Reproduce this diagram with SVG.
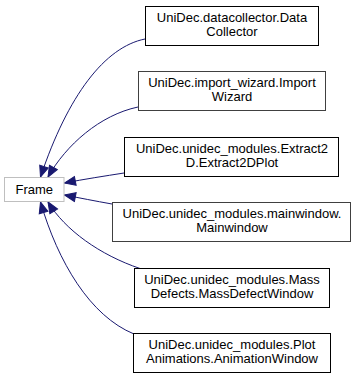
<svg xmlns="http://www.w3.org/2000/svg" width="357" height="379" viewBox="0 0 357 379">
  <style>
    .box { fill: #ffffff; stroke: #000000; stroke-width: 1; }
    .box.ext { stroke: #bfbfbf; }
    .box.grey { stroke: #404040; }
    .lbl { font-family: "Liberation Sans", Arial, Helvetica, sans-serif; font-size: 13px; fill: #000000; text-anchor: middle; }
    .edge { fill: none; stroke: #191970; stroke-width: 1; marker-end: url(#arrow); }
  </style>
  <defs>
    <marker id="arrow" markerUnits="userSpaceOnUse" markerWidth="14" markerHeight="10" refX="11" refY="4.5" orient="auto" overflow="visible">
      <path d="M0,0 L11,4.5 L0,9 Z" fill="#191970" stroke="#191970" stroke-width="1"/>
    </marker>
  </defs>
  <rect width="357" height="379" fill="#ffffff"/>

  <!-- inheritance edges: each subclass points back to Frame -->
  <g id="edges">
    <path class="edge" d="M145,39 C105,47 68,95 40.5,177"/>
    <path class="edge" d="M138,107 C100,115 66,145 48,177"/>
    <path class="edge" d="M124,173 C105,176 85,179 64.5,183"/>
    <path class="edge" d="M112,204 C95,201 80,198 64.5,195"/>
    <path class="edge" d="M140,268.5 C100,255 65,230 48,202"/>
    <path class="edge" d="M134,334 C90,316 58,262 40.5,202"/>
  </g>

  <g id="node-frame">
    <rect class="box ext" x="4.5" y="177.5" width="59.5" height="24"/>
    <text class="lbl" x="34.25" y="193.5">Frame</text>
  </g>

  <g id="node-datacollector">
    <rect class="box" x="145.5" y="6.5" width="173" height="39"/>
    <text class="lbl" x="232" y="21.5">UniDec.datacollector.Data</text>
    <text class="lbl" x="232" y="35.5">Collector</text>
  </g>

  <g id="node-importwizard">
    <rect class="box grey" x="138.5" y="71.5" width="187" height="39"/>
    <text class="lbl" x="232" y="86.5">UniDec.import_wizard.Import</text>
    <text class="lbl" x="232" y="100.5">Wizard</text>
  </g>

  <g id="node-extract2d">
    <rect class="box" x="124.5" y="137.5" width="214" height="39"/>
    <text class="lbl" x="232" y="152.5">UniDec.unidec_modules.Extract2</text>
    <text class="lbl" x="232" y="166.5">D.Extract2DPlot</text>
  </g>

  <g id="node-mainwindow">
    <rect class="box grey" x="112.5" y="202.5" width="238" height="39"/>
    <text class="lbl" x="232" y="217.5">UniDec.unidec_modules.mainwindow.</text>
    <text class="lbl" x="232" y="231.5">Mainwindow</text>
  </g>

  <g id="node-massdefect">
    <rect class="box" x="134.5" y="268.5" width="195" height="39"/>
    <text class="lbl" x="232" y="283.5">UniDec.unidec_modules.Mass</text>
    <text class="lbl" x="232" y="297.5">Defects.MassDefectWindow</text>
  </g>

  <g id="node-animation">
    <rect class="box" x="133.5" y="333.5" width="197" height="39"/>
    <text class="lbl" x="232" y="348.5">UniDec.unidec_modules.Plot</text>
    <text class="lbl" x="232" y="362.5">Animations.AnimationWindow</text>
  </g>
</svg>
